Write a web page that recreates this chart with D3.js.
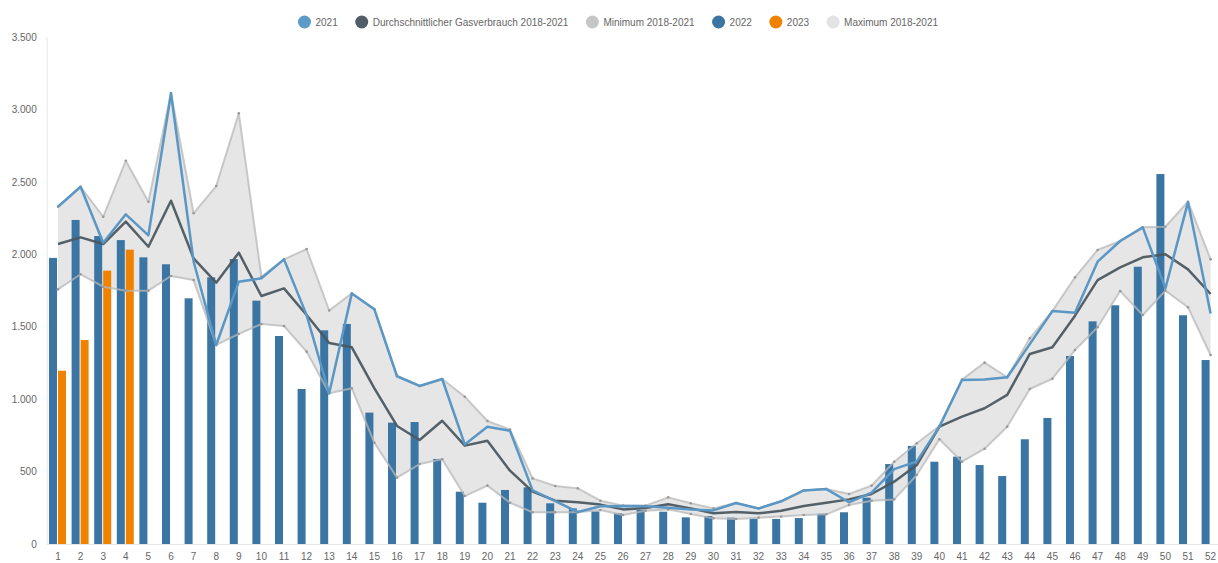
<!DOCTYPE html>
<html><head><meta charset="utf-8">
<script src="https://cdn.jsdelivr.net/npm/d3@7"></script>
<style>
html,body{margin:0;padding:0;background:#fff;}
svg{display:block;font-family:"Liberation Sans",Arial,sans-serif;}
</style></head>
<body>
<svg id="chart" width="1218" height="563"></svg>
<script>
const weeks = d3.range(1, 53);
const yTicks = [0, 500, 1000, 1500, 2000, 2500, 3000, 3500];

const v2022 = [1975,2237,2126,2098,1979,1931,1696,1841,1967,1680,1436,1070,1475,1519,907,838,842,587,361,285,373,391,281,246,225,212,235,223,184,193,182,175,173,179,209,219,320,552,677,568,603,545,469,723,870,1298,1537,1648,1914,2554,1579,1270];
const v2023 = [1196,1408,1887,2032];
const v2021 = [2328,2466,2080,2276,2131,3110,1950,1374,1811,1834,1965,1580,1040,1730,1620,1158,1091,1139,687,810,781,370,296,221,260,263,260,251,239,232,283,245,295,370,379,288,355,517,570,810,1132,1135,1151,1380,1608,1597,1949,2092,2186,1765,2360,1592];
const vAvg = [2071,2117,2071,2225,2052,2370,1972,1804,2011,1712,1765,1581,1388,1358,1075,815,718,851,679,713,506,361,299,288,272,239,248,274,246,212,221,212,230,262,285,308,345,430,545,810,879,937,1029,1312,1358,1576,1822,1910,1979,2000,1896,1726];
const vMax = [2328,2466,2259,2646,2363,3113,2283,2471,2973,1845,1965,2036,1612,1730,1620,1160,1091,1139,1017,849,790,453,400,384,299,265,265,322,281,246,283,246,295,370,380,345,403,568,695,815,1135,1252,1151,1420,1608,1841,2030,2092,2186,2190,2363,1965];
const vMin = [1758,1862,1776,1749,1749,1850,1822,1374,1450,1519,1505,1328,1040,1075,699,458,552,585,331,403,285,219,219,219,235,200,230,239,207,177,173,182,189,200,205,269,299,308,476,723,568,658,810,1070,1141,1339,1496,1746,1581,1749,1634,1305];

const legendItems = [
  {name:"2021", color:"#5b9bc8"},
  {name:"Durchschnittlicher Gasverbrauch 2018-2021", color:"#505d66"},
  {name:"Minimum 2018-2021", color:"#c6c6c6"},
  {name:"2022", color:"#3a75a3"},
  {name:"2023", color:"#f08200"},
  {name:"Maximum 2018-2021", color:"#e3e3e3"}
];

const svg = d3.select("#chart");
const plotL = 46.7, plotR = 1221.9, plotT = 37, plotB = 544;

const x = d3.scaleBand().domain(weeks).range([plotL, plotR]).padding(0);
const cx = w => x(w) + x.bandwidth() / 2;
const xs = d3.scaleBand().domain(["2022","2023"]).range([-9, 9]).padding(0);
const y = d3.scaleLinear().domain([0, 3500]).range([plotB, plotT]);

const de = d3.formatLocale({decimal:",", thousands:".", grouping:[3], currency:["","€"]});
const fmt = de.format(",d");

// axes
const gx = svg.append("g").attr("transform", `translate(0,${plotB})`)
  .call(d3.axisBottom(x).tickSize(0).tickPadding(9));
gx.select(".domain").attr("stroke", "#e6e6e6").attr("d", `M${plotL},0.5H1218`);
gx.selectAll("text").attr("fill", "#666").attr("font-size", "10px").attr("font-family", "Liberation Sans, Arial, sans-serif");

const gy = svg.append("g").attr("transform", `translate(${plotL},0)`)
  .call(d3.axisLeft(y).tickValues(yTicks).tickFormat(fmt).tickSize(0).tickPadding(10));
gy.select(".domain").attr("stroke", "#e6e6e6");
gy.selectAll("text").attr("fill", "#666").attr("font-size", "10px").attr("font-family", "Liberation Sans, Arial, sans-serif");

// band
const band = weeks.map((w, i) => ({w, lo: vMin[i], hi: vMax[i]}));
svg.append("path").datum(band)
  .attr("fill", "#e6e6e6")
  .attr("d", d3.area().x(d => cx(d.w)).y0(d => y(d.lo)).y1(d => y(d.hi)));

// bars
svg.append("g").selectAll("rect").data(weeks.map((w, i) => ({w, v: v2022[i]})))
  .join("rect")
  .attr("x", d => cx(d.w) + xs("2022")).attr("width", xs.bandwidth() - 1)
  .attr("y", d => y(d.v)).attr("height", d => y(0) - y(d.v))
  .attr("fill", "#3a75a3");
svg.append("g").selectAll("rect").data(v2023.map((v, i) => ({w: weeks[i], v})))
  .join("rect")
  .attr("x", d => cx(d.w) + xs("2023")).attr("width", xs.bandwidth() - 1)
  .attr("y", d => y(d.v)).attr("height", d => y(0) - y(d.v))
  .attr("fill", "#f08200");

const line = d3.line().x(d => cx(d.w)).y(d => y(d.v));
function drawLine(vals, color, width, opacity) {
  const data = weeks.map((w, i) => ({w, v: vals[i]}));
  svg.append("path").datum(data).attr("fill", "none")
    .attr("stroke", color).attr("stroke-width", width).attr("stroke-opacity", opacity)
    .attr("stroke-linejoin", "round").attr("d", line);
  return data;
}
[vMin, vMax].forEach(vals => {
  const data = drawLine(vals, "#b8b8b8", 2, 0.75);
  svg.append("g").selectAll("circle").data(data).join("circle")
    .attr("cx", d => cx(d.w)).attr("cy", d => y(d.v)).attr("r", 1.3).attr("fill", "#999");
});
drawLine(vAvg, "#4b5861", 2.5, 0.95);
drawLine(v2021, "#5a97c4", 2.5, 1);

// legend
const lg = svg.append("g");
let pos = 0;
const items = legendItems.map(it => {
  const g = lg.append("g");
  g.append("circle").attr("r", 6.5).attr("fill", it.color);
  const t = g.append("text").attr("x", 11).attr("y", 3.5).text(it.name)
    .attr("font-size", "10px").attr("fill", "#666");
  const w = t.node().getComputedTextLength();
  g.attr("transform", `translate(${pos},22)`);
  pos += 11 + w + 24;
  return g;
});
const totalW = pos - 24 + 6.5;
lg.attr("transform", `translate(${618 - totalW / 2 + 6.5},0)`);
</script>
</body></html>
